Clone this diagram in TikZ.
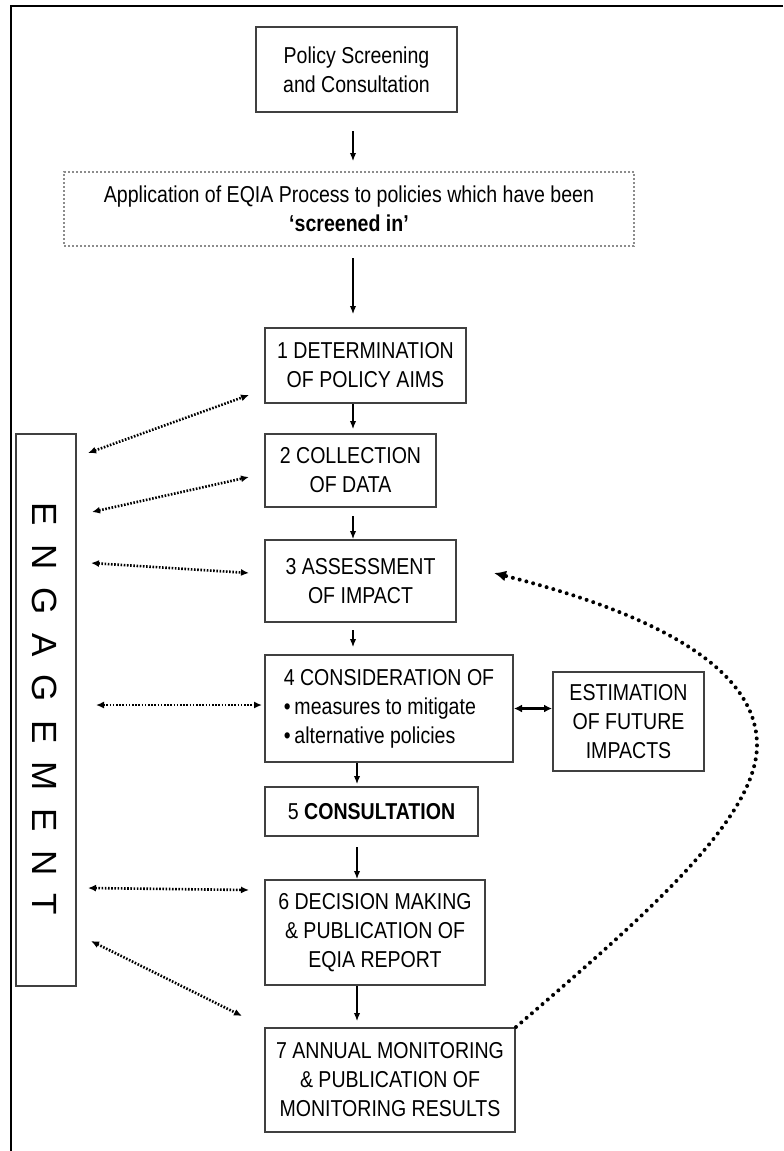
\documentclass[tikz,border=0pt]{standalone}
\usepackage{fontspec}
\setmainfont{Liberation Sans}
\newfontfamily\narrowfont{Liberation Sans}[FakeStretch=0.85]
\usetikzlibrary{arrows.meta,calc}

\tikzset{
  stepbox/.style={draw=black!75, line width=1pt, align=center, inner sep=2pt,
    font=\narrowfont\fontsize{11.5}{14.5}\selectfont},
  flow/.style={-{Latex[length=4pt,width=3.2pt]}, line width=0.6pt},
  twoway/.style={{Latex[length=4pt,width=4pt]}-{Latex[length=4pt,width=4pt]}, line width=1.6pt},
  engarrow/.style={{Latex[length=4pt,width=3.5pt]}-{Latex[length=4pt,width=3.5pt]},
    line width=1.3pt, dash pattern=on 0.8pt off 0.8pt},
  loopback/.style={-{Latex[length=6pt,width=5.5pt]}, line width=2pt, line cap=round,
    dash pattern=on 0pt off 3.5pt},
}

\begin{document}
\begin{tikzpicture}[x=0.5pt,y=-0.5pt]
  \useasboundingbox (0,0) rectangle (783,1151);
  \draw[line width=1.2pt] (783,6) -- (11,6) -- (11,1151);

  % process boxes
  \node[stepbox, minimum width=100.5pt, minimum height=42.5pt] (screen) at (356.5,69.5)
    {Policy Screening\\and Consultation};
  \node[stepbox, draw=black!45, densely dotted, minimum width=285pt, minimum height=37pt] (apply) at (349,209)
    {Application of EQIA Process to policies which have been\\\textbf{‘screened in’}};
  \node[stepbox, minimum width=100.5pt, minimum height=37.5pt] (aims) at (365.5,365.5)
    {1 DETERMINATION\\OF POLICY AIMS};
  \node[stepbox, minimum width=85.5pt, minimum height=36.5pt] (data) at (350.5,470.5)
    {2 COLLECTION\\OF DATA};
  \node[stepbox, minimum width=95.5pt, minimum height=41pt] (impact) at (360.5,581)
    {3 ASSESSMENT\\OF IMPACT};
  \node[stepbox, align=left, minimum width=124pt, minimum height=53.5pt] (consider) at (389,708.5)
    {4 CONSIDERATION OF\\\textbullet\,measures to mitigate\\\textbullet\,alternative policies};
  \node[stepbox, minimum width=75.5pt, minimum height=49.5pt] (future) at (628.5,721.5)
    {ESTIMATION\\OF FUTURE\\IMPACTS};
  \node[stepbox, minimum width=106.5pt, minimum height=24.5pt] (consult) at (371.5,811.5)
    {5 \textbf{CONSULTATION}};
  \node[stepbox, minimum width=110pt, minimum height=52.5pt] (decide) at (375,932.5)
    {6 DECISION MAKING\\\& PUBLICATION OF\\EQIA REPORT};
  \node[stepbox, minimum width=125pt, minimum height=52pt] (monitor) at (390,1080)
    {7 ANNUAL MONITORING\\\& PUBLICATION OF\\MONITORING RESULTS};
  \node[draw=black!75, line width=1pt, minimum width=30pt, minimum height=276pt] (eng) at (46,709.5) {};
  \node[rotate=-90, font=\fontsize{17.5}{20}\selectfont\addfontfeatures{LetterSpace=52}] (engtext) at (45,709) {ENGAGEMENT};

  % main flow
  \coordinate (spine) at (353,0);
  \coordinate (spineb) at (357,0);
  \draw[flow, shorten <=9pt, shorten >=5pt] (screen.south -| spine) -- (apply.north -| spine);
  \draw[flow, shorten <=5.5pt, shorten >=6.5pt] (apply.south -| spine) -- (aims.north -| spine);
  \draw[flow, shorten >=2pt] (aims.south -| spine) -- (data.north -| spine);
  \draw[flow, shorten <=4pt] (data.south -| spine) -- (impact.north -| spine);
  \draw[flow, shorten <=3.5pt, shorten >=3.5pt] (impact.south -| spine) -- (consider.north -| spine);
  \draw[flow, shorten >=1pt] (consider.south -| spineb) -- (consult.north -| spineb);
  \draw[flow, shorten <=5pt] (consult.south -| spineb) -- (decide.north -| spineb);
  \draw[flow, shorten >=3pt] (decide.south -| spineb) -- (monitor.north -| spineb);
  \draw[twoway] (consider.east) -- (consider.east -| future.west);

  % engagement links
  \coordinate (e1) at (88,453);
  \coordinate (e2) at (92,512);
  \coordinate (e3) at (91,563);
  \coordinate (e4) at (96,705);
  \coordinate (e5) at (88,888);
  \coordinate (e6) at (91,941);
  \draw[engarrow] (e1) -- ($(aims.west)+(-15,29.5)$);
  \draw[engarrow] (e2) -- ($(data.west)+(-15,6.5)$);
  \draw[engarrow] (e3) -- ($(impact.west)+(-15,-8)$);
  \draw[engarrow] (e4) -- ($(consider.west)+(-2,-3.5)$);
  \draw[engarrow] (e5) -- ($(decide.north west)+(-15,11)$);
  \draw[engarrow] (e6) -- ($(monitor.north west)+(-22,-11)$);

  % monitoring feeds back to assessment
  \draw[loopback] (monitor.north east) .. controls (640,920) and (757,820) .. (757,745)
    .. controls (757,650) and (600,600) .. ($(impact.east)+(37,-8)$);
\end{tikzpicture}
\end{document}
